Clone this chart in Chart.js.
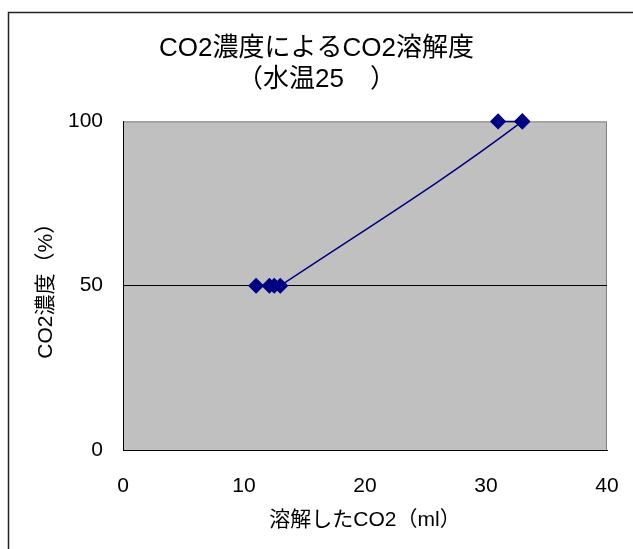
<!DOCTYPE html>
<html lang="ja">
  <head>
    <meta charset="UTF-8" />
    <title>CO2溶解度</title>
    <script src="https://cdn.jsdelivr.net/npm/chart.js@4.4.0/dist/chart.umd.min.js"></script>
    <style>
      html, body { margin: 0; padding: 0; background: #fff; }
      #wrap { width: 633px; height: 549px; }
    </style>
  </head>
  <body>
    <div id="wrap"><canvas id="co2Chart" width="633" height="549"></canvas></div>
    <script>
      // 溶解したCO2 (ml) と CO2濃度 (%)
      const dissolvedCO2 = [11, 12.1, 12.5, 13, 33, 31, 33];
      const co2Concentration = [50, 50, 50, 50, 100, 100, 100];
      const xTicks = [0, 10, 20, 30, 40];
      const yTicks = [0, 50, 100];

      const titleLines = ["CO2濃度によるCO2溶解度", "（水温25　）"];
      const xTitle = "溶解したCO2（ml）";
      const yTitle = "CO2濃度（%）";

      const fontFamily = "'Liberation Sans', Arial, 'Noto Sans CJK JP', sans-serif";
      const navy = "#000080";

      const points = dissolvedCO2.map((x, i) => ({ x: x, y: co2Concentration[i] }));

      // 背景・外枠
      const framePlugin = {
        id: "frame",
        beforeDraw(chart) {
          const ctx = chart.ctx;
          const a = chart.chartArea;
          ctx.save();
          ctx.fillStyle = "#fff";
          ctx.fillRect(0, 0, chart.width, chart.height);
          ctx.strokeStyle = "#222";
          ctx.lineWidth = 1.5;
          ctx.strokeRect(8.5, 12.5, chart.width + 20, chart.height + 20);
          ctx.fillStyle = "#C0C0C0";
          ctx.fillRect(a.left, a.top, a.right - a.left, a.bottom - a.top);
          ctx.strokeStyle = "#808080";
          ctx.lineWidth = 1;
          ctx.beginPath();
          ctx.moveTo(a.left, a.top + 0.5);
          ctx.lineTo(a.right - 0.5, a.top + 0.5);
          ctx.lineTo(a.right - 0.5, a.bottom);
          ctx.stroke();
          ctx.restore();
        },
      };

      new Chart(document.getElementById("co2Chart"), {
        type: "scatter",
        data: {
          datasets: [
            {
              data: points,
              showLine: true,
              tension: 0.4,
              borderColor: navy,
              borderWidth: 1.5,
              backgroundColor: navy,
              pointStyle: "rectRot",
              pointRadius: 7,
              pointBorderColor: navy,
              pointBackgroundColor: navy,
              clip: false,
            },
          ],
        },
        options: {
          responsive: false,
          animation: false,
          layout: { padding: { left: 0, top: 12, right: 0, bottom: 0 } },
          plugins: {
            legend: { display: false },
            tooltip: { enabled: false },
            title: {
              display: true,
              text: titleLines,
              color: "#000",
              font: { family: fontFamily, size: 26, weight: "normal", lineHeight: 1.2 },
              padding: { top: 21, bottom: 26 },
            },
          },
          scales: {
            x: {
              type: "linear",
              min: 0,
              max: 40,
              afterBuildTicks(scale) {
                scale.ticks = xTicks.map((v) => ({ value: v }));
              },
              afterFit(scale) {
                scale.height = 99;
                scale.paddingLeft = 0;
                scale.paddingRight = 26;
              },
              grid: { display: false, drawTicks: false },
              border: { display: true, color: "#000", width: 1 },
              ticks: {
                color: "#000",
                padding: 24,
                font: { family: fontFamily, size: 21 },
              },
              title: {
                display: true,
                text: xTitle,
                color: "#000",
                font: { family: fontFamily, size: 21 },
                padding: { top: 0, bottom: 16 },
              },
            },
            y: {
              type: "linear",
              min: 0,
              max: 100,
              afterBuildTicks(scale) {
                scale.ticks = yTicks.map((v) => ({ value: v }));
              },
              afterFit(scale) {
                scale.width = 123;
                scale.paddingTop = 0;
                scale.paddingBottom = 0;
              },
              grid: {
                drawTicks: false,
                color: (c) => (c.tick && c.tick.value === 50 ? "#000" : "rgba(0,0,0,0)"),
              },
              border: { display: true, color: "#000", width: 1 },
              ticks: {
                color: "#000",
                padding: 20,
                font: { family: fontFamily, size: 21 },
              },
              title: {
                display: true,
                text: yTitle,
                color: "#000",
                font: { family: fontFamily, size: 21 },
                padding: { top: 34, bottom: 0 },
              },
            },
          },
        },
        plugins: [framePlugin],
      });
    </script>
  </body>
</html>
